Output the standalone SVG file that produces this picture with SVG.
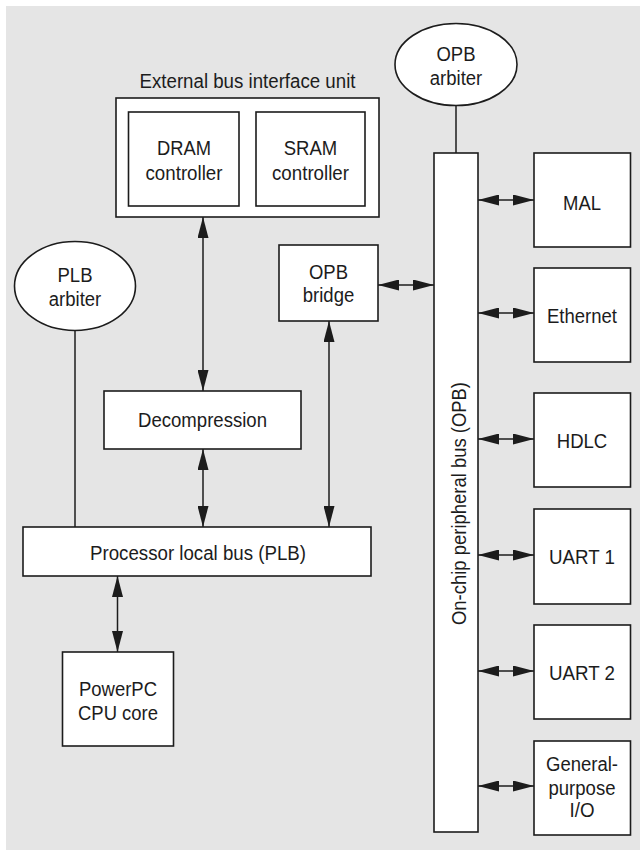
<svg xmlns="http://www.w3.org/2000/svg" width="640" height="850" viewBox="0 0 640 850">
  <style>
    .box { fill: #ffffff; stroke: #1c1c1c; stroke-width: 1.6; }
    .wire { fill: none; stroke: #1c1c1c; stroke-width: 1.5; }
    .lbl { font-family: "Liberation Sans", Arial, sans-serif; font-size: 19.5px; fill: #1c1c1c; text-anchor: middle; }
  </style>
  <defs>
    <marker id="head" viewBox="0 0 21 11" refX="21" refY="5.5" markerWidth="21" markerHeight="11" markerUnits="userSpaceOnUse" orient="auto-start-reverse">
      <path d="M0,0 L21,5.5 L0,11 Z" fill="#1c1c1c"/>
    </marker>
  </defs>

  <!-- backdrop panel -->
  <rect x="6" y="6" width="640" height="850" fill="#e5e5e5"/>

  <!-- connectors -->
  <g id="connectors">
    <line class="wire" x1="456" y1="105" x2="456" y2="153"/>
    <line class="wire" x1="75" y1="330.5" x2="75" y2="527"/>
    <line class="wire" x1="203" y1="217" x2="203" y2="391" marker-start="url(#head)" marker-end="url(#head)"/>
    <line class="wire" x1="203" y1="449" x2="203" y2="527" marker-start="url(#head)" marker-end="url(#head)"/>
    <line class="wire" x1="329" y1="321" x2="329" y2="527" marker-start="url(#head)" marker-end="url(#head)"/>
    <line class="wire" x1="117.5" y1="576" x2="117.5" y2="652" marker-start="url(#head)" marker-end="url(#head)"/>
    <line class="wire" x1="378" y1="285" x2="434" y2="285" marker-start="url(#head)" marker-end="url(#head)"/>
    <line class="wire" x1="478" y1="200" x2="534" y2="200" marker-start="url(#head)" marker-end="url(#head)"/>
    <line class="wire" x1="478" y1="313" x2="534" y2="313" marker-start="url(#head)" marker-end="url(#head)"/>
    <line class="wire" x1="478" y1="439" x2="534" y2="439" marker-start="url(#head)" marker-end="url(#head)"/>
    <line class="wire" x1="478" y1="555" x2="534" y2="555" marker-start="url(#head)" marker-end="url(#head)"/>
    <line class="wire" x1="478" y1="671" x2="534" y2="671" marker-start="url(#head)" marker-end="url(#head)"/>
    <line class="wire" x1="478" y1="786" x2="534" y2="786" marker-start="url(#head)" marker-end="url(#head)"/>
  </g>

  <!-- external bus interface unit with its two controllers -->
  <g id="ebiu">
    <text class="lbl" x="247.5" y="88" textLength="216" lengthAdjust="spacingAndGlyphs">External bus interface unit</text>
    <rect class="box" x="116" y="98" width="263" height="119"/>
  </g>
  <g id="dram">
    <rect class="box" x="128.5" y="112" width="110.5" height="94"/>
    <text class="lbl" x="184" y="155" textLength="54" lengthAdjust="spacingAndGlyphs">DRAM</text>
    <text class="lbl" x="184" y="180" textLength="77" lengthAdjust="spacingAndGlyphs">controller</text>
  </g>
  <g id="sram">
    <rect class="box" x="256" y="112" width="109" height="94"/>
    <text class="lbl" x="310.5" y="155" textLength="53.5" lengthAdjust="spacingAndGlyphs">SRAM</text>
    <text class="lbl" x="310.5" y="180" textLength="77" lengthAdjust="spacingAndGlyphs">controller</text>
  </g>

  <g id="opb-arbiter">
    <ellipse class="box" cx="456" cy="64.5" rx="61" ry="41"/>
    <text class="lbl" x="456" y="61" textLength="39" lengthAdjust="spacingAndGlyphs">OPB</text>
    <text class="lbl" x="456" y="85" textLength="52.5" lengthAdjust="spacingAndGlyphs">arbiter</text>
  </g>

  <g id="plb-arbiter">
    <ellipse class="box" cx="75" cy="286" rx="60.5" ry="44.5"/>
    <text class="lbl" x="75" y="282" textLength="35" lengthAdjust="spacingAndGlyphs">PLB</text>
    <text class="lbl" x="75" y="306" textLength="52.5" lengthAdjust="spacingAndGlyphs">arbiter</text>
  </g>

  <g id="opb-bridge">
    <rect class="box" x="279" y="245" width="99" height="76"/>
    <text class="lbl" x="328.5" y="279" textLength="39" lengthAdjust="spacingAndGlyphs">OPB</text>
    <text class="lbl" x="328.5" y="302" textLength="51.5" lengthAdjust="spacingAndGlyphs">bridge</text>
  </g>

  <g id="decompression">
    <rect class="box" x="104" y="391" width="197" height="58"/>
    <text class="lbl" x="202.5" y="427" textLength="129" lengthAdjust="spacingAndGlyphs">Decompression</text>
  </g>

  <g id="plb">
    <rect class="box" x="23" y="527" width="348" height="49"/>
    <text class="lbl" x="198" y="559.5" textLength="216" lengthAdjust="spacingAndGlyphs">Processor local bus (PLB)</text>
  </g>

  <g id="cpu">
    <rect class="box" x="62.5" y="652" width="111" height="94"/>
    <text class="lbl" x="118" y="696" textLength="78" lengthAdjust="spacingAndGlyphs">PowerPC</text>
    <text class="lbl" x="118" y="719.5" textLength="80" lengthAdjust="spacingAndGlyphs">CPU core</text>
  </g>

  <g id="opb">
    <rect class="box" x="434" y="153" width="44" height="679"/>
    <text class="lbl" transform="translate(465.5 503.5) rotate(-90)" x="0" y="0" textLength="243" lengthAdjust="spacingAndGlyphs">On-chip peripheral bus (OPB)</text>
  </g>

  <g id="mal">
    <rect class="box" x="534" y="153" width="96.5" height="94"/>
    <text class="lbl" x="582" y="210" textLength="38" lengthAdjust="spacingAndGlyphs">MAL</text>
  </g>
  <g id="ethernet">
    <rect class="box" x="534" y="268" width="96.5" height="94"/>
    <text class="lbl" x="582" y="323" textLength="70" lengthAdjust="spacingAndGlyphs">Ethernet</text>
  </g>
  <g id="hdlc">
    <rect class="box" x="534" y="393" width="96.5" height="94"/>
    <text class="lbl" x="582" y="448" textLength="50.5" lengthAdjust="spacingAndGlyphs">HDLC</text>
  </g>
  <g id="uart1">
    <rect class="box" x="534" y="509" width="96.5" height="95"/>
    <text class="lbl" x="582" y="564" textLength="66" lengthAdjust="spacingAndGlyphs">UART 1</text>
  </g>
  <g id="uart2">
    <rect class="box" x="534" y="625" width="96.5" height="94"/>
    <text class="lbl" x="582" y="680" textLength="66" lengthAdjust="spacingAndGlyphs">UART 2</text>
  </g>
  <g id="gpio">
    <rect class="box" x="534" y="741" width="96.5" height="94"/>
    <text class="lbl" x="582" y="771" textLength="72" lengthAdjust="spacingAndGlyphs">General-</text>
    <text class="lbl" x="582" y="794.5" textLength="67" lengthAdjust="spacingAndGlyphs">purpose</text>
    <text class="lbl" x="582" y="817" textLength="25" lengthAdjust="spacingAndGlyphs">I/O</text>
  </g>
</svg>
